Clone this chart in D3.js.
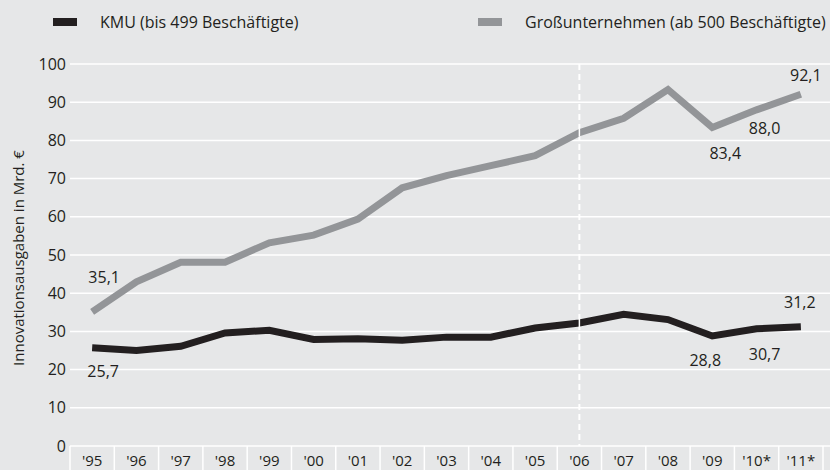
<!DOCTYPE html>
<html><head><meta charset="utf-8">
<script src="https://cdn.jsdelivr.net/npm/d3@7"></script>
<style>body{margin:0;background:#e6e7e8}svg{display:block}</style>
</head><body><svg id="c" width="830" height="470"></svg>
<script>
const years = ["'95","'96","'97","'98","'99","'00","'01","'02","'03","'04","'05","'06","'07","'08","'09","'10*","'11*"];
const kmu   = [25.7,25.0,26.1,29.6,30.3,27.9,28.1,27.7,28.5,28.5,30.9,32.2,34.5,33.1,28.8,30.7,31.2];
const gross = [35.1,43.0,48.1,48.1,53.2,55.2,59.4,67.6,70.8,73.4,76.0,82.0,85.8,93.3,83.4,88.0,92.1];
const yTicks = [0,10,20,30,40,50,60,70,80,90,100];
const seriesNames = ["KMU (bis 499 Beschäftigte)","Großunternehmen (ab 500 Beschäftigte)"];
const yTitle = "Innovationsausgaben in Mrd. €";
const splitYear = "'06";

const BG = "#e6e7e8", DARK = "#231f20", GREY = "#939598";
const FONT = "'Open Sans', 'Noto Sans', sans-serif";

const svg = d3.select("#c");
svg.append("rect").attr("width",830).attr("height",470).attr("fill",BG);

const x = d3.scaleBand().domain(years).range([70,823]).padding(0);
const y = d3.scaleLinear().domain([0,100]).range([446,64]);
const cx = d => x(d) + x.bandwidth()/2;

// gridlines
svg.append("g").selectAll("line").data(yTicks).join("line")
  .attr("x1",70).attr("x2",830).attr("y1",d=>y(d)).attr("y2",d=>y(d))
  .attr("stroke","#fff").attr("stroke-width",1.5);

// y tick labels
svg.append("g").selectAll("text").data(yTicks).join("text")
  .attr("x",66).attr("y",d=>y(d)).attr("dy","0.35em").attr("text-anchor","end")
  .attr("font-family",FONT).attr("font-size",16).attr("fill","#231f20").text(d=>d);

// y title
svg.append("text").attr("transform","translate(24,258) rotate(-90)")
  .attr("text-anchor","middle").attr("font-family",FONT).attr("font-size",15)
  .attr("fill","#231f20").text(yTitle);

// x band separators
const bounds = years.map(d=>x(d)).concat([x(years[years.length-1])+x.bandwidth()]);
svg.append("g").selectAll("line").data(bounds).join("line")
  .attr("x1",d=>d).attr("x2",d=>d).attr("y1",446).attr("y2",470)
  .attr("stroke","#fff").attr("stroke-width",1.5);

// x labels
svg.append("g").selectAll("text").data(years).join("text")
  .attr("x",d=>cx(d)).attr("y",466).attr("text-anchor","middle")
  .attr("font-family",FONT).attr("font-size",15).attr("fill","#231f20").text(d=>d);

// dashed split line
svg.append("line").attr("x1",cx(splitYear)).attr("x2",cx(splitYear))
  .attr("y1",64).attr("y2",446).attr("stroke","#fff").attr("stroke-width",2)
  .attr("stroke-dasharray","6,4");

// lines
const line = d3.line().x((d,i)=>cx(years[i])).y(d=>y(d));
svg.append("path").datum(gross).attr("d",line).attr("fill","none")
  .attr("stroke",GREY).attr("stroke-width",7).attr("stroke-linejoin","miter");
svg.append("path").datum(kmu).attr("d",line).attr("fill","none")
  .attr("stroke",DARK).attr("stroke-width",7).attr("stroke-linejoin","miter");

// split marker on lines (small white gap at '06)
[gross,kmu].forEach(s=>{
  const i = years.indexOf(splitYear);
  svg.append("line").attr("x1",cx(splitYear)).attr("x2",cx(splitYear))
    .attr("y1",y(s[i])-4).attr("y2",y(s[i])+4).attr("stroke","#fff").attr("stroke-width",1.5);
});

// value labels
const fmt = v => d3.format(".1f")(v).replace(".",",");
const labels = [
  {s:gross,i:0,dx:12,dy:-29},
  {s:gross,i:14,dx:13,dy:32},
  {s:gross,i:15,dx:8,dy:24},
  {s:gross,i:16,dx:5,dy:-13},
  {s:kmu,i:0,dx:11,dy:29},
  {s:kmu,i:14,dx:-7,dy:30},
  {s:kmu,i:15,dx:8,dy:31},
  {s:kmu,i:16,dx:-1,dy:-19}
];
svg.append("g").selectAll("text").data(labels).join("text")
  .attr("x",d=>cx(years[d.i])+d.dx).attr("y",d=>y(d.s[d.i])+d.dy)
  .attr("text-anchor","middle").attr("font-family",FONT).attr("font-size",16)
  .attr("fill","#231f20").text(d=>fmt(d.s[d.i]));

// legend
const leg = [{name:seriesNames[0],c:DARK,x:53},{name:seriesNames[1],c:GREY,x:478}];
const lg = svg.append("g").selectAll("g").data(leg).join("g");
lg.append("rect").attr("x",d=>d.x).attr("y",18).attr("width",24).attr("height",8).attr("fill",d=>d.c);
lg.append("text").attr("x",d=>d.x+47).attr("y",28).attr("font-family",FONT).attr("font-size",16)
  .attr("fill","#231f20").text(d=>d.name);
</script></body></html>
